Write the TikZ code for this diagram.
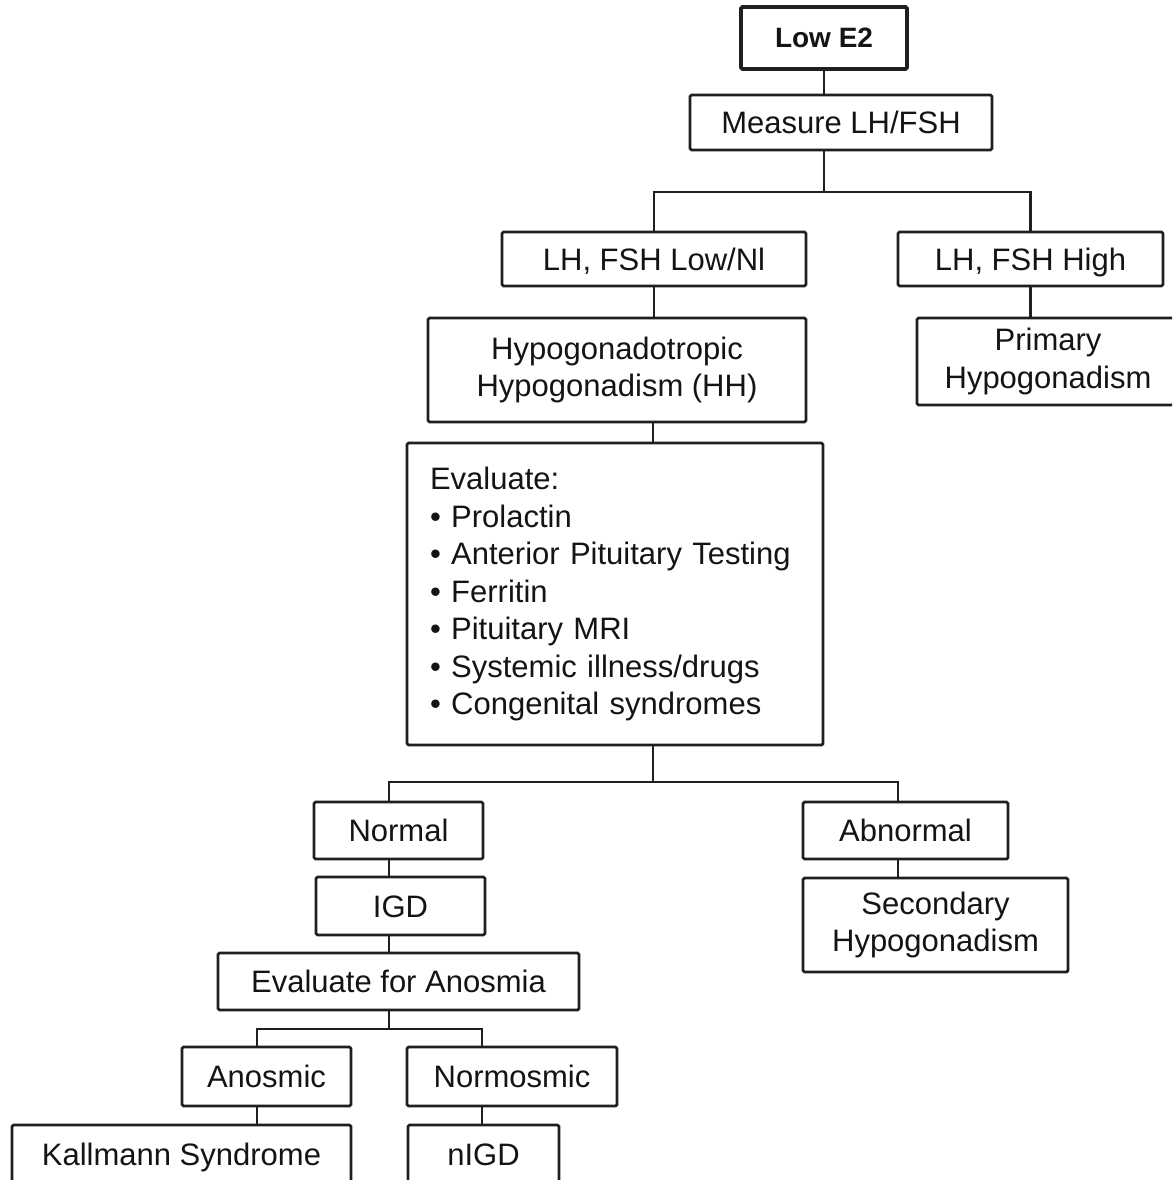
\documentclass[tikz,border=0pt]{standalone}
\usepackage{fontspec}
\setmainfont{Liberation Sans}
\begin{document}
\begin{tikzpicture}[x=1pt,y=-1pt,
  box/.style={draw=black!88, line width=2.8pt, rounded corners=1.5pt, fill=white,
    inner sep=0pt, align=center, text=black!92,
    font=\fontsize{31}{37.5}\selectfont},
  one/.style={text height=22pt, text depth=0pt},
  topbox/.style={box, line width=3.8pt, text height=20pt, text depth=0pt,
    font=\bfseries\fontsize{28}{33}\selectfont},
  link/.style={draw=black!88, line width=2.8pt}]
\clip (0,0) rectangle (1172,1180);
\fill[white] (0,0) rectangle (1172,1180);
% nodes
\node[topbox, minimum width=166pt, minimum height=62pt] (lowe2) at (824,38) {Low E2};
\node[box, one, minimum width=302pt, minimum height=55pt] (measure) at (841,122.5) {Measure LH/FSH};
\node[box, one, minimum width=304pt, minimum height=54pt] (lownl) at (654,259) {LH, FSH Low/Nl};
\node[box, one, minimum width=265pt, minimum height=54pt] (high) at (1030.5,259) {LH, FSH High};
\node[box, minimum width=378pt, minimum height=104pt] (hh) at (617,370) {Hypogonadotropic\\Hypogonadism (HH)};
\node[box, minimum width=262pt, minimum height=87pt] (primary) at (1048,361.5) {Primary\\Hypogonadism};
\node[box, minimum width=416pt, minimum height=302pt, align=left, text width=370pt] (eval) at (615,594)
  {Evaluate:\\\textbullet\ Prolactin\\\textbullet\ Anterior Pituitary Testing\\\textbullet\ Ferritin\\\textbullet\ Pituitary MRI\\\textbullet\ Systemic illness/drugs\\\textbullet\ Congenital syndromes};
\node[box, one, minimum width=169pt, minimum height=57pt] (normal) at (398.5,830.5) {Normal};
\node[box, one, minimum width=205pt, minimum height=57pt] (abnormal) at (905.5,830.5) {Abnormal};
\node[box, one, minimum width=169pt, minimum height=58pt] (igd) at (400.5,906) {IGD};
\node[box, minimum width=265pt, minimum height=94pt] (secondary) at (935.5,925) {Secondary\\Hypogonadism};
\node[box, one, minimum width=361pt, minimum height=57pt] (anosmia) at (398.5,981.5) {Evaluate for Anosmia};
\node[box, one, minimum width=169pt, minimum height=59pt] (anosmic) at (266.5,1076.5) {Anosmic};
\node[box, one, minimum width=210pt, minimum height=59pt] (normosmic) at (512,1076.5) {Normosmic};
\node[box, one, minimum width=339pt, minimum height=58pt] (kall) at (181.5,1154) {Kallmann Syndrome};
\node[box, one, minimum width=151pt, minimum height=58pt] (nigd) at (483.5,1154) {nIGD};
% fork points
\coordinate (f1) at (824,192);
\coordinate (f2) at (653,782);
\coordinate (n1) at (389,782);
\coordinate (a1) at (898,782);
\coordinate (f3) at (389,1029);
\coordinate (k1) at (257,1029);
\coordinate (m1) at (482,1029);
% connectors
\draw[link] (lowe2.south) -- (lowe2.south |- measure.north);
\draw[link] (measure.south -| f1) -- (f1);
\draw[link] (lownl.north) |- (f1) -| (high.north);
\draw[link] (lownl.south) -- (lownl.south |- hh.north);
\draw[link] (high.south) -- (high.south |- primary.north);
\draw[link] (hh.south -| f2) -- (eval.north -| f2);
\draw[link] (eval.south -| f2) -- (f2);
\draw[link] (normal.north -| n1) -- (n1) -- (a1) -- (abnormal.north -| a1);
\draw[link] (normal.south -| n1) -- (igd.north -| n1);
\draw[link] (igd.south -| n1) -- (anosmia.north -| n1);
\draw[link] (abnormal.south -| a1) -- (secondary.north -| a1);
\draw[link] (anosmia.south -| f3) -- (f3);
\draw[link] (anosmic.north -| k1) -- (k1) -- (m1) -- (normosmic.north -| m1);
\draw[link] (anosmic.south -| k1) -- (kall.north -| k1);
\draw[link] (normosmic.south -| m1) -- (nigd.north -| m1);
\end{tikzpicture}
\end{document}
